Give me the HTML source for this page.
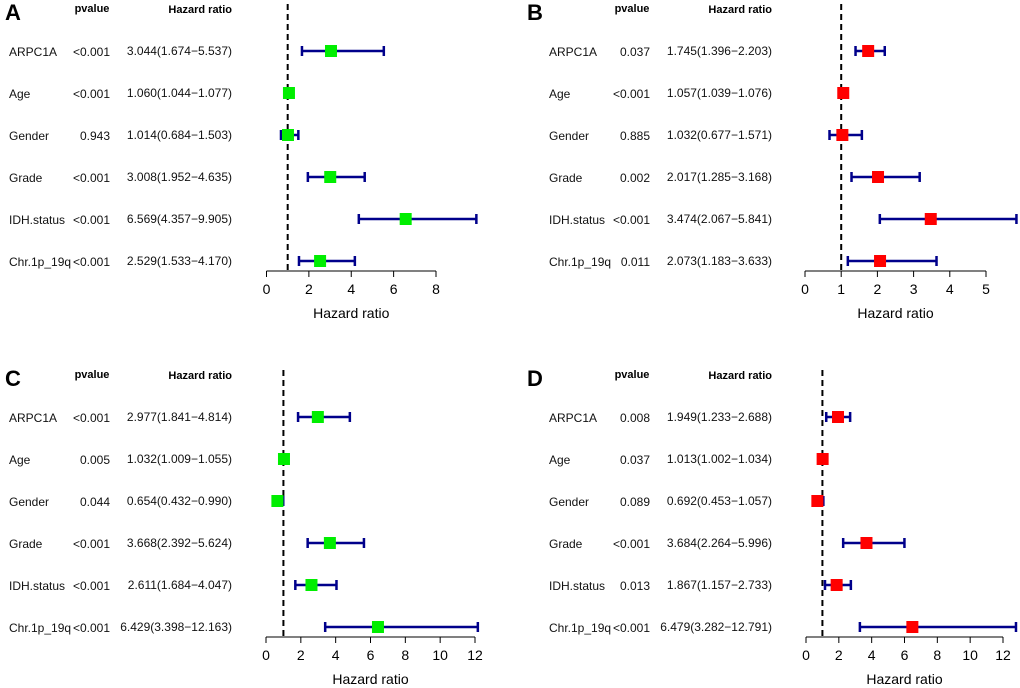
<!DOCTYPE html>
<html><head><meta charset="utf-8"><style>
html,body{margin:0;padding:0;background:#fff}
svg{display:block;font-family:"Liberation Sans",Arial,sans-serif}
</style></head><body>
<svg id="c" width="1020" height="688" viewBox="0 0 1020 688"></svg>
<script>
const variables = ["ARPC1A","Age","Gender","Grade","IDH.status","Chr.1p_19q"];
const pvalA = ["<0.001","<0.001","0.943","<0.001","<0.001","<0.001"];
const hrA = [3.044,1.060,1.014,3.008,6.569,2.529];
const lowA = [1.674,1.044,0.684,1.952,4.357,1.533];
const highA = [5.537,1.077,1.503,4.635,9.905,4.170];
const labA = ["3.044(1.674\u22125.537)","1.060(1.044\u22121.077)","1.014(0.684\u22121.503)","3.008(1.952\u22124.635)","6.569(4.357\u22129.905)","2.529(1.533\u22124.170)"];
const ticksA = [0,2,4,6,8];
const pvalB = ["0.037","<0.001","0.885","0.002","<0.001","0.011"];
const hrB = [1.745,1.057,1.032,2.017,3.474,2.073];
const lowB = [1.396,1.039,0.677,1.285,2.067,1.183];
const highB = [2.203,1.076,1.571,3.168,5.841,3.633];
const labB = ["1.745(1.396\u22122.203)","1.057(1.039\u22121.076)","1.032(0.677\u22121.571)","2.017(1.285\u22123.168)","3.474(2.067\u22125.841)","2.073(1.183\u22123.633)"];
const ticksB = [0,1,2,3,4,5];
const pvalC = ["<0.001","0.005","0.044","<0.001","<0.001","<0.001"];
const hrC = [2.977,1.032,0.654,3.668,2.611,6.429];
const lowC = [1.841,1.009,0.432,2.392,1.684,3.398];
const highC = [4.814,1.055,0.990,5.624,4.047,12.163];
const labC = ["2.977(1.841\u22124.814)","1.032(1.009\u22121.055)","0.654(0.432\u22120.990)","3.668(2.392\u22125.624)","2.611(1.684\u22124.047)","6.429(3.398\u221212.163)"];
const ticksC = [0,2,4,6,8,10,12];
const pvalD = ["0.008","0.037","0.089","<0.001","0.013","<0.001"];
const hrD = [1.949,1.013,0.692,3.684,1.867,6.479];
const lowD = [1.233,1.002,0.453,2.264,1.157,3.282];
const highD = [2.688,1.034,1.057,5.996,2.733,12.791];
const labD = ["1.949(1.233\u22122.688)","1.013(1.002\u22121.034)","0.692(0.453\u22121.057)","3.684(2.264\u22125.996)","1.867(1.157\u22122.733)","6.479(3.282\u221212.791)"];
const ticksD = [0,2,4,6,8,10,12];

const svg=document.getElementById('c');
const NS='http://www.w3.org/2000/svg';
function mk(tag,attrs,parent){const e=document.createElementNS(NS,tag);for(const k in attrs)e.setAttribute(k,attrs[k]);parent.appendChild(e);return e;}
function txt(s,attrs,parent){const e=mk('text',attrs,parent);e.textContent=s;return e;}

function panel(id,letter,lx,ox,oy,x0,x1,maxT,pv,hr,lo,hi,lab,ticks,color){
  const g=mk('g',{},svg);
  
  
  const sx=v=>x0+(v/maxT)*(x1-x0);
  const rowY=i=>oy+51+i*42;
  const axisY=oy+271;
  const L=txt(letter,{x:lx,y:oy+20,'font-size':22,'font-weight':'bold'},g);
  
  
  const h1=txt('pvalue',{x:ox+92,y:oy+12,'font-size':11,'font-weight':'bold','text-anchor':'middle'},g);
  
  
  const h2=txt('Hazard ratio',{x:ox+232,y:oy+13,'font-size':11,'font-weight':'bold','text-anchor':'end'},g);
  
  
  const ref=mk('line',{x1:sx(1),x2:sx(1),y1:oy+4,y2:axisY,stroke:'#000','stroke-width':2,'stroke-dasharray':'6,4'},g);
  
  
  for(let i=0;i<variables.length;i++){
    const y=rowY(i);
    const t1=txt(variables[i],{x:ox+9,y:y+5,'font-size':12,fill:'#111'},g);
    
    
    const t2=txt(pv[i],{x:ox+110,y:y+5,'font-size':12,'text-anchor':'end',fill:'#111'},g);
    
    
    const t3=txt(lab[i],{x:ox+232,y:y+4,'font-size':12,'text-anchor':'end',fill:'#111'},g);
    
    
    const ci=mk('path',{d:`M${sx(lo[i])},${y-5}V${y+5}M${sx(lo[i])},${y}H${sx(hi[i])}M${sx(hi[i])},${y-5}V${y+5}`,stroke:'#00008B','stroke-width':2.5,fill:'none'},g);
    
    
    const b=mk('rect',{x:sx(hr[i])-6,y:y-6,width:12,height:12,fill:color},g);
    
    
  }
  const ax=mk('line',{x1:sx(ticks[0]),x2:sx(ticks[ticks.length-1]),y1:axisY,y2:axisY,stroke:'#000','stroke-width':1},g);
  
  
  ticks.forEach(t=>{
    const tl=mk('line',{x1:sx(t),x2:sx(t),y1:axisY,y2:axisY+6,stroke:'#000'},g);
    
    
    const tt=txt(String(t),{x:sx(t),y:axisY+23,'font-size':14,'text-anchor':'middle'},g);
    
    
  });
  const xt=txt('Hazard ratio',{x:(x0+x1)/2,y:axisY+47,'font-size':14,'text-anchor':'middle'},g);
  
  
}
panel('a','A',5,0,0,266.5,436,8,pvalA,hrA,lowA,highA,labA,ticksA,'#00EE00');
panel('b','B',527,540,0,805,986,5,pvalB,hrB,lowB,highB,labB,ticksB,'#FF0000');
panel('c','C',5,0,366,266,475,12,pvalC,hrC,lowC,highC,labC,ticksC,'#00EE00');
panel('d','D',527,540,366,806,1003,12,pvalD,hrD,lowD,highD,labD,ticksD,'#FF0000');
</script>
</body></html>
